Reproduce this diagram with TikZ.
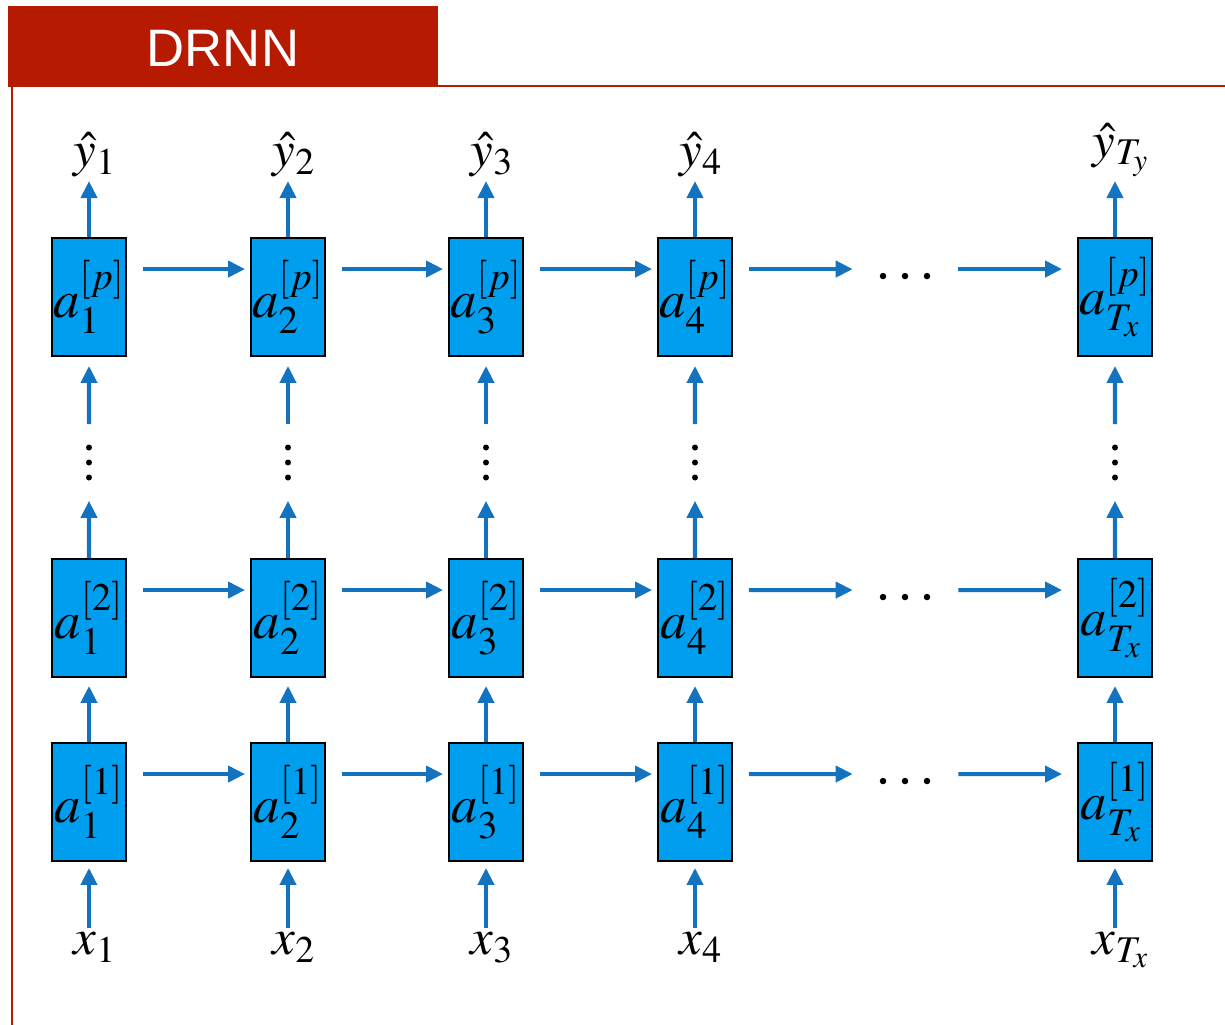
\documentclass[tikz,border=0pt]{standalone}
\usepackage{mathptmx}
\usepackage{fontspec}
\usetikzlibrary{calc,arrows.meta}

\newfontfamily\headfont{Liberation Sans}
\definecolor{headred}{RGB}{182,26,0}
\definecolor{cellblue}{RGB}{0,158,238}
\definecolor{linkblue}{RGB}{20,115,190}

\tikzset{
  cell/.style={draw, fill=cellblue, line width=1.1pt, minimum width=1.48cm, minimum height=2.36cm, inner sep=0pt, font=\fontsize{30}{34}\selectfont},
  link/.style={draw=linkblue, line width=2.3pt, -{Triangle[length=0.34cm,width=0.32cm]}},
  lbl/.style={inner sep=0pt, font=\fontsize{29}{33}\selectfont},
  hdots/.style={minimum width=1.2cm, minimum height=0.2cm, inner sep=0pt},
  vdots/.style={minimum width=0.2cm, minimum height=1.52cm, inner sep=0pt}
}

\begin{document}
\begin{tikzpicture}[x=0.02cm, y=-0.02cm]
        \useasboundingbox (0,0) rectangle (1225,1025);

        % Define the title bar
        \fill[headred] (8,6) rectangle (438,87);
        \node[font=\headfont\fontsize{30}{34}\selectfont, text=white] (title) at (223,48) {DRNN};
        \draw[headred, line width=0.05cm] (438,86) -- (1225,86);
        \draw[headred, line width=0.05cm] (12,86) -- (12,1025);

        % Define the cells
        \foreach \i/\x/\s in {1/89/1, 2/288/2, 3/486/3, 4/695/4, 5/1115/T_x} {
            \node[cell] (p-\i) at (\x,297) {$a^{[p]}_{\s}$};
            \node[cell] (m-\i) at (\x,618) {$a^{[2]}_{\s}$};
            \node[cell] (b-\i) at (\x,802) {$a^{[1]}_{\s}$};
        }

        % Define the edges along time
        \foreach \r in {p,m,b} {
            \foreach \i/\j in {1/2, 2/3, 3/4}
                \draw[link] ($(\r-\i.north east)+(16,32)$) -- ($(\r-\j.north west)+(-5,32)$);
            \node[hdots] (\r-h) at ($(\r-4.north east)!0.5!(\r-5.north west)+(0,39)$) {};
            \foreach \d in {-22,0,22}
                \fill ($(\r-h.center)+(\d,0)$) circle (0.065cm);
            \draw[link] ($(\r-4.north east)+(16,32)$) -- ($(\r-h.west)+(-22,-7)$);
            \draw[link] ($(\r-h.east)+(23,-7)$) -- ($(\r-5.north west)+(-15,32)$);
        }

        % Define the edges between layers, inputs and outputs
        \foreach \i/\s/\o in {1/1/1, 2/2/2, 3/3/3, 4/4/4, 5/T_x/T_y} {
            \draw[link] (b-\i.north) -- ($(m-\i.south)+(0,8)$);
            \node[vdots] (v-\i) at ($(m-\i.north)!0.5!(p-\i.south)+(0,5)$) {};
            \foreach \d in {-15,0,15}
                \fill ($(v-\i.center)+(0,\d)$) circle (0.06cm);
            \draw[link] (m-\i.north) -- (v-\i.south);
            \draw[link] (v-\i.north) -- ($(p-\i.south)+(0,9)$);

            \node[lbl, anchor=south] (yh-\i) at ($(p-\i.north)+(6,-60)$) {$\hat{y}_{\o}$};
            \draw[link, shorten >=0.08cm] (p-\i.north) -- (p-\i.north |- yh-\i.south);

            \node[lbl, anchor=north] (x-\i) at ($(b-\i.south)+(6,70)$) {$x_{\s}$};
            \draw[link, shorten >=0.12cm, shorten <=0.08cm] (b-\i.south |- x-\i.north) -- (b-\i.south);
        }

    \end{tikzpicture}
\end{document}
